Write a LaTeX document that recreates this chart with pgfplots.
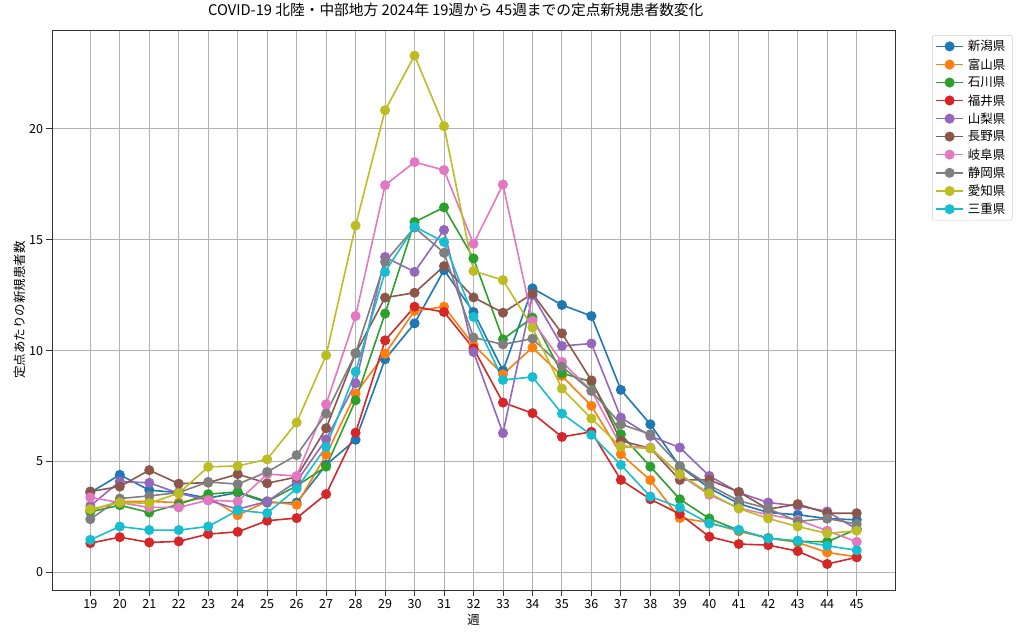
\documentclass[border=0pt]{standalone}
\usepackage{fontspec}
\setmainfont{Noto Sans CJK JP}
\usepackage{pgfplots}
\usepackage{pgfplotstable}
\pgfplotsset{compat=1.18}

\definecolor{tabblue}{HTML}{1F77B4}
\definecolor{taborange}{HTML}{FF7F0E}
\definecolor{tabgreen}{HTML}{2CA02C}
\definecolor{tabred}{HTML}{D62728}
\definecolor{tabpurple}{HTML}{9467BD}
\definecolor{tabbrown}{HTML}{8C564B}
\definecolor{tabpink}{HTML}{E377C2}
\definecolor{tabgray}{HTML}{7F7F7F}
\definecolor{tabolive}{HTML}{BCBD22}
\definecolor{tabcyan}{HTML}{17BECF}

% week, then one column per prefecture
\pgfplotstableread{
wk ni to is fu ya na gi sh ai mi
19 3.60 2.80 2.73 1.32 3.00 3.65 3.38 2.40 2.85 1.47
20 4.40 3.20 3.03 1.59 4.10 3.87 3.15 3.33 3.15 2.07
21 3.71 3.20 2.70 1.35 4.04 4.61 2.93 3.45 3.12 1.91
22 3.60 3.15 3.07 1.40 3.57 4.00 2.93 3.60 3.57 1.91
23 3.35 3.40 3.53 1.73 3.25 4.05 3.26 4.08 4.76 2.07
24 3.60 2.58 3.63 1.83 2.85 4.43 3.20 3.98 4.80 2.80
25 3.15 3.20 3.20 2.33 3.20 4.02 4.43 4.53 5.10 2.67
26 3.15 3.05 3.90 2.45 4.10 4.30 4.35 5.29 6.76 3.78
27 4.85 5.30 4.77 3.53 6.00 6.50 7.58 7.16 9.79 5.66
28 5.98 8.06 7.76 6.30 8.53 9.88 11.56 9.88 15.64 9.05
29 9.61 9.86 11.67 10.46 14.22 12.39 17.46 14.00 20.84 13.55
30 11.23 11.79 15.80 11.98 13.55 12.61 18.50 15.55 23.30 15.59
31 13.63 11.98 16.46 11.74 15.44 13.81 18.14 14.41 20.12 14.90
32 11.74 10.26 14.16 10.10 9.94 12.40 14.82 10.59 13.59 11.52
33 9.10 8.93 10.51 7.66 6.28 11.71 17.49 10.28 13.18 8.68
34 12.81 10.14 11.49 7.18 12.50 12.57 11.34 10.54 11.04 8.81
35 12.06 8.86 8.98 6.11 10.21 10.78 9.49 9.28 8.29 7.16
36 11.56 7.51 8.60 6.34 10.32 8.66 8.20 8.18 6.94 6.20
37 8.23 5.33 6.23 4.17 6.98 5.93 5.70 6.68 5.66 4.85
38 6.68 4.16 4.77 3.30 6.15 5.60 5.63 6.23 5.59 3.42
39 4.78 2.45 3.30 2.63 5.63 4.17 4.40 4.80 4.43 2.93
40 3.80 2.25 2.43 1.61 4.35 4.17 3.50 3.93 3.57 2.20
41 3.10 1.85 1.90 1.28 3.60 3.63 2.90 3.23 2.88 1.92
42 2.70 1.55 1.55 1.23 3.15 2.85 2.60 2.88 2.43 1.53
43 2.60 1.35 1.40 0.96 3.00 3.08 2.37 2.30 2.07 1.43
44 2.43 0.90 1.38 0.38 2.75 2.67 1.88 2.43 1.76 1.20
45 2.37 0.70 1.95 0.68 1.95 2.67 1.38 2.18 1.88 1.00
}\covid

\begin{document}
\begin{tikzpicture}
\begin{axis}[
  name=ax,
  width=843pt, height=560pt, scale only axis,
  xmin=17.7, xmax=46.3,
  ymin=-0.8, ymax=24.45,
  xtick={19,...,45},
  ytick={0,5,10,15,20},
  xtick pos=bottom, ytick pos=left,
  tick align=outside,
  major tick length=5.5pt,
  tick style={black!80, line width=0.9pt},
  axis line style={black!80, line width=0.9pt},
  grid=major,
  grid style={color=black!30, line width=0.9pt},
  /pgf/number format/assume math mode=true,
  tick label style={font=\fontsize{12.5}{14}\selectfont},
  title={COVID-19 北陸・中部地方 2024年 19週から 45週までの定点新規患者数変化},
  title style={font=\fontsize{14.7}{16}\selectfont, at={(axis description cs:0.479,1.025)}, anchor=center},
  xlabel={週},
  xlabel style={font=\fontsize{12.5}{14}\selectfont, at={(axis description cs:0.5,-0.0536)}, anchor=center},
  ylabel={定点あたりの新規患者数},
  ylabel style={font=\fontsize{12.5}{14}\selectfont, at={(axis description cs:-0.038,0.5)}, anchor=center},
  every axis plot/.append style={line width=1.6pt, mark=*, mark size=4.2pt, mark options={solid}},
  legend image code/.code={\draw[mark repeat=2,mark phase=2,#1] plot coordinates {(0pt,0pt) (13.5pt,0pt) (27pt,0pt)};},
  legend cell align=left,
  legend style={at={(1.044,0.991)}, anchor=north west, font=\fontsize{12.5}{14}\selectfont,
    draw=black!20, rounded corners=2pt, row sep=2.2pt, inner sep=3pt,
    nodes={inner xsep=4pt}},
]
\addplot[color=tabblue] table[x=wk, y=ni] {\covid};
\addplot[color=taborange] table[x=wk, y=to] {\covid};
\addplot[color=tabgreen] table[x=wk, y=is] {\covid};
\addplot[color=tabred] table[x=wk, y=fu] {\covid};
\addplot[color=tabpurple] table[x=wk, y=ya] {\covid};
\addplot[color=tabbrown] table[x=wk, y=na] {\covid};
\addplot[color=tabpink] table[x=wk, y=gi] {\covid};
\addplot[color=tabgray] table[x=wk, y=sh] {\covid};
\addplot[color=tabolive] table[x=wk, y=ai] {\covid};
\addplot[color=tabcyan] table[x=wk, y=mi] {\covid};
\legend{新潟県,富山県,石川県,福井県,山梨県,長野県,岐阜県,静岡県,愛知県,三重県}
\end{axis}
\path (ax.south west) ++(-52pt,-46pt) rectangle ++(1024pt,634pt);
\end{tikzpicture}
\end{document}
